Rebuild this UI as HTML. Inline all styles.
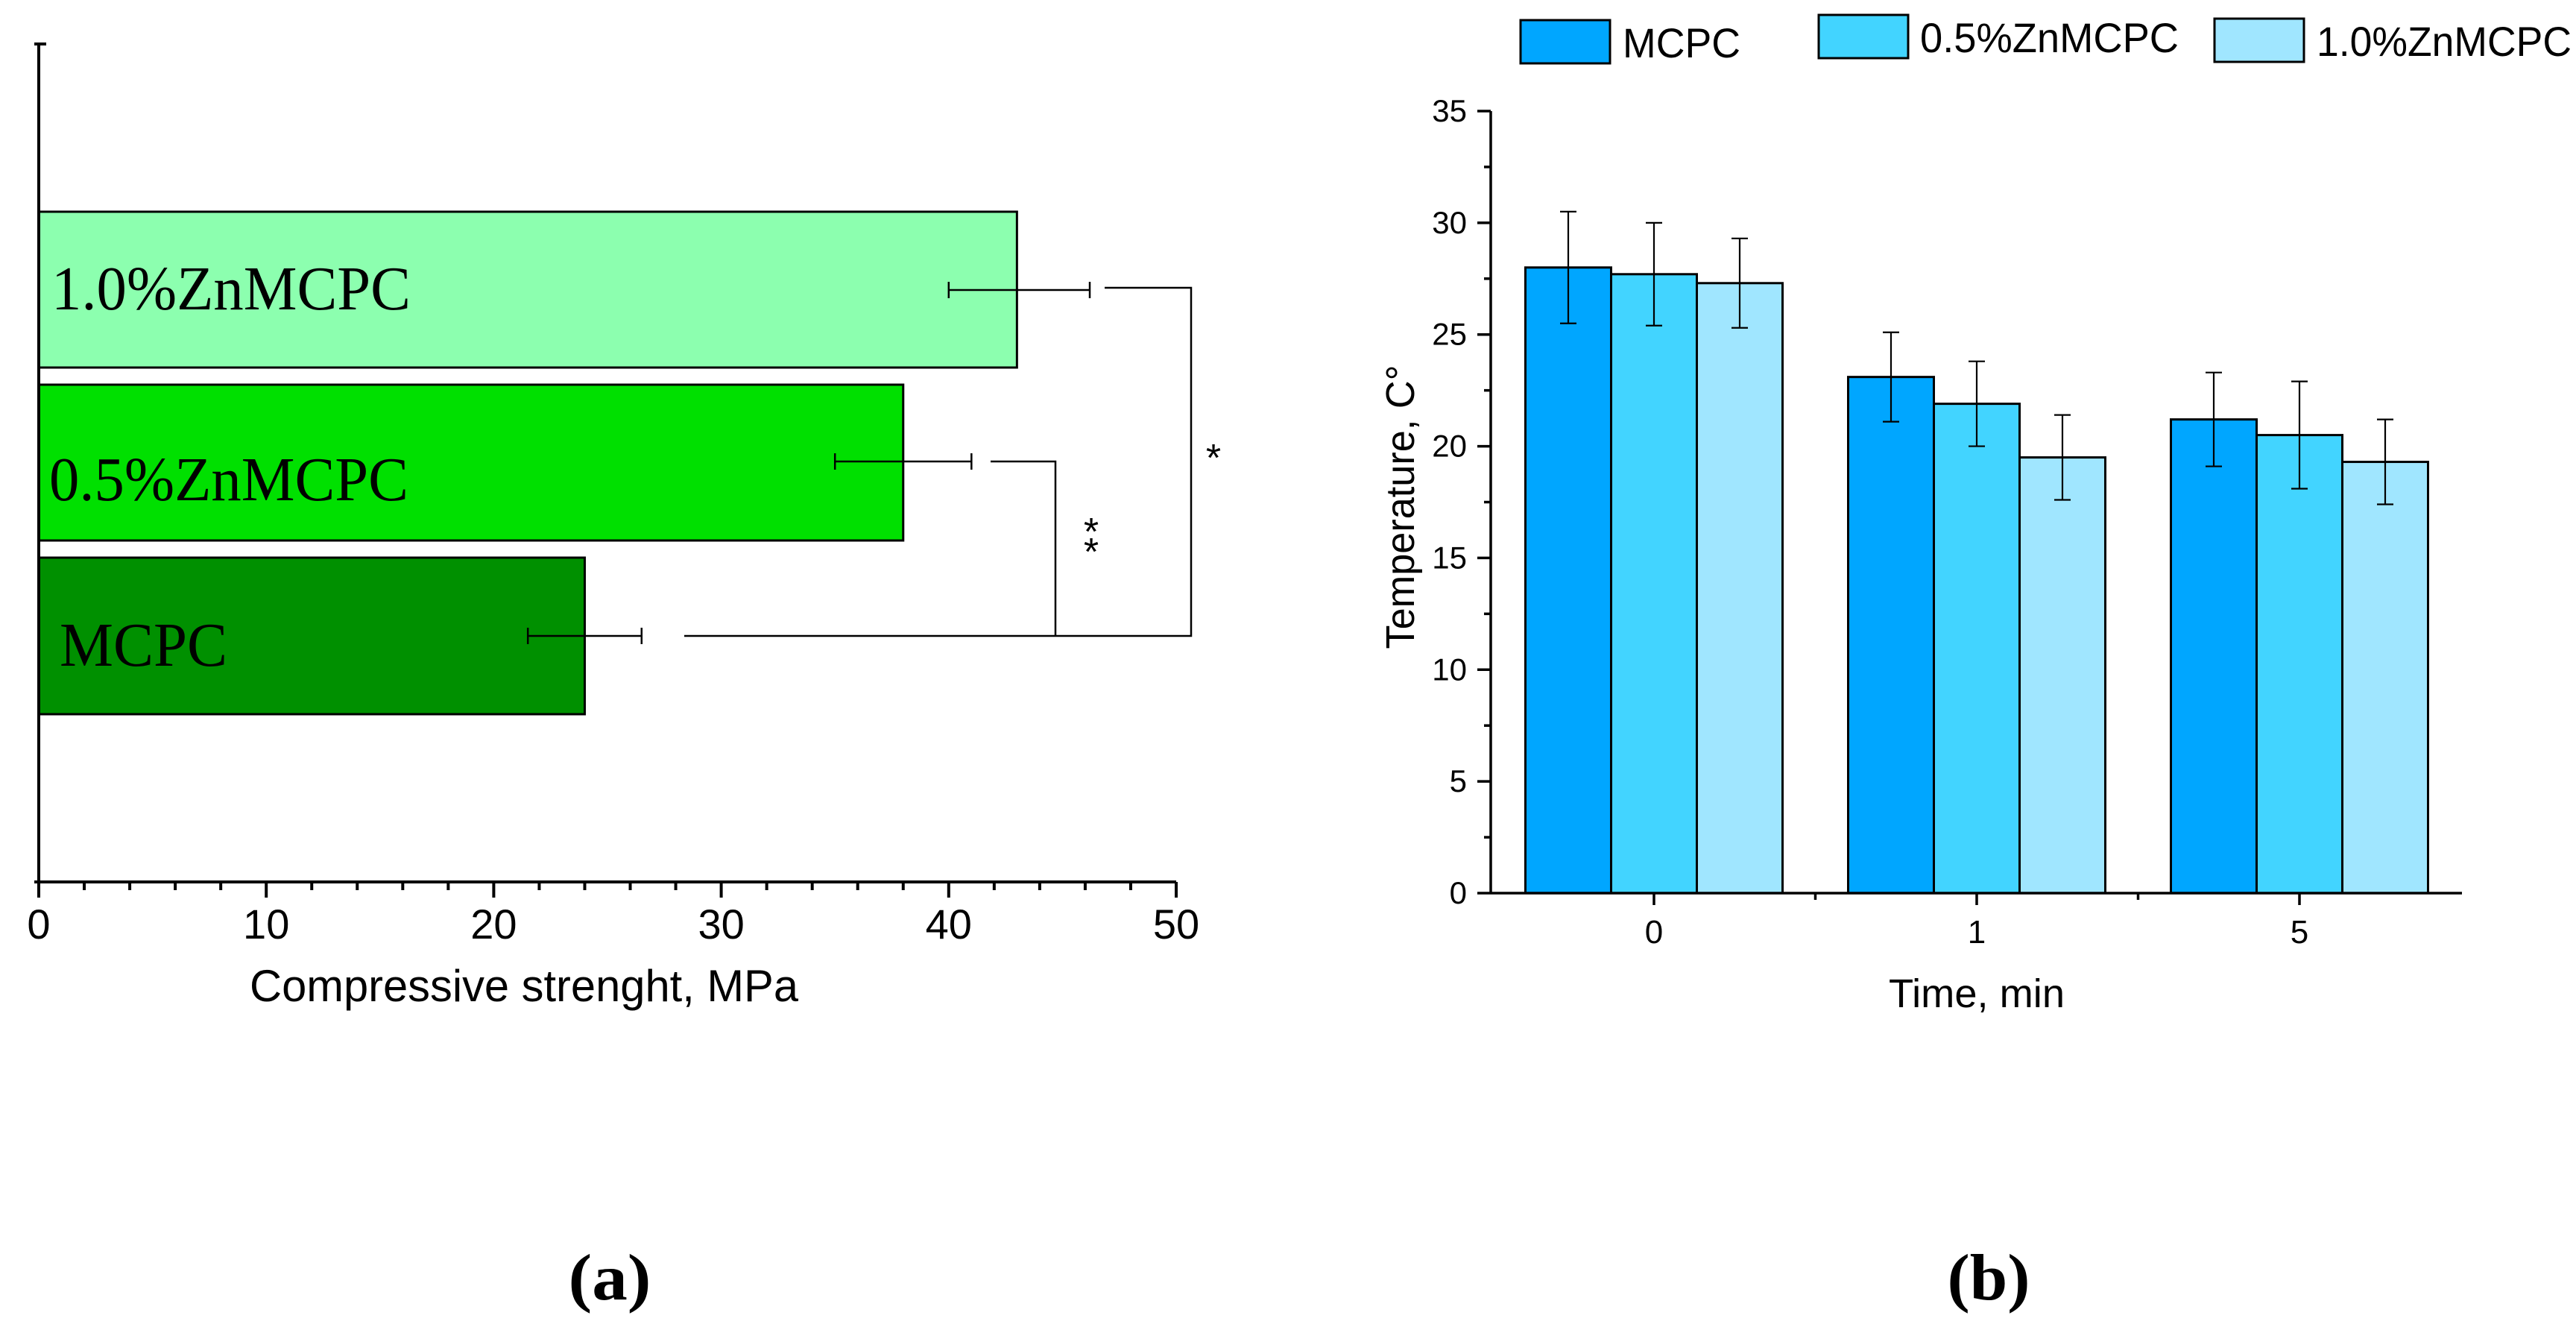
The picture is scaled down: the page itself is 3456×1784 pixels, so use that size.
<!DOCTYPE html>
<html><head><meta charset="utf-8">
<style>
html,body{margin:0;padding:0;background:#fff;}
svg{display:block;}
</style></head>
<body>
<svg id="fig" width="3456" height="1784" viewBox="0 0 3456 1784" xmlns="http://www.w3.org/2000/svg">
<rect width="3456" height="1784" fill="#fff"/>
<g id="a"></g>
<g id="b"></g>
<text x="818" y="1743" font-family="Liberation Serif, serif" font-weight="bold" font-size="88" text-anchor="middle" textLength="111" lengthAdjust="spacingAndGlyphs">(a)</text>
<text x="2668" y="1743" font-family="Liberation Serif, serif" font-weight="bold" font-size="88" text-anchor="middle" textLength="111" lengthAdjust="spacingAndGlyphs">(b)</text>
</svg>
<script>
// ---- Panel A data ----
const aCats = ["1.0%ZnMCPC","0.5%ZnMCPC","MCPC"];
const aVals = [43, 38, 24];
const aErrLo = [40.0, 35.0, 21.5];
const aErrHi = [46.2, 41.0, 26.5];
const aTicks = [0,10,20,30,40,50];
// ---- Panel B data ----
const bCats = ["0","1","5"];
const bSeries = ["MCPC","0.5%ZnMCPC","1.0%ZnMCPC"];
const bMCPC = [28.0, 23.1, 21.2];
const bZn05 = [27.7, 21.9, 20.5];
const bZn10 = [27.3, 19.5, 19.3];
const bErrMCPC = [2.5, 2.0, 2.1];
const bErrZn05 = [2.3, 1.9, 2.4];
const bErrZn10 = [2.0, 1.9, 1.9];
const bTicks = [0,5,10,15,20,25,30,35];

const NS="http://www.w3.org/2000/svg";
function mk(parent,tag,attrs,text){const e=document.createElementNS(NS,tag);for(const k in attrs)e.setAttribute(k,attrs[k]);if(text!==undefined)e.textContent=text;parent.appendChild(e);return e;}

// ===== Panel A =====
(function(){
const g=document.getElementById('a');
const x0=52,x1=1578,yTop=59,yBot=1183;
const xs=v=>x0+(v-0)/(50-0)*(x1-x0);
const barTop=[284,516,748],barBot=[493,725,958];
const colors=["#8cffaf","#00e000","#009000"];
const labelBase=[415,671,893],labelX=[69,66,80];
aCats.forEach((c,i)=>{
  const r=mk(g,'rect',{x:xs(0),y:barTop[i],width:xs(aVals[i])-xs(0),height:barBot[i]-barTop[i],fill:colors[i],stroke:'#000','stroke-width':3});
  
  
  const t=mk(g,'text',{x:labelX[i],y:labelBase[i],'font-family':'Liberation Serif, serif','font-size':84,fill:'#000',textLength:c==='MCPC'?225:482,lengthAdjust:'spacingAndGlyphs'},c);
  
  
  const yc=[389,619,853][i];
  const eb=mk(g,'g',{stroke:'#000','stroke-width':2.5});
  
  
  mk(eb,'line',{x1:xs(aErrLo[i]),y1:yc,x2:xs(aErrHi[i]),y2:yc});
  mk(eb,'line',{x1:xs(aErrLo[i]),y1:yc-11,x2:xs(aErrLo[i]),y2:yc+11});
  mk(eb,'line',{x1:xs(aErrHi[i]),y1:yc-11,x2:xs(aErrHi[i]),y2:yc+11});
});
// significance brackets
const br=mk(g,'g',{stroke:'#000','stroke-width':2.5,fill:'none'});


mk(br,'polyline',{points:`1482,386 1598,386 1598,853 918,853`});
mk(br,'polyline',{points:`1329,619 1416,619 1416,853`});
const s1=mk(g,'text',{x:1628,y:632,'font-family':'Liberation Sans, sans-serif','font-size':52,'text-anchor':'middle'},'*');


const s2=mk(g,'text',{x:1464,y:731,'font-family':'Liberation Sans, sans-serif','font-size':52,'text-anchor':'middle'},'*');


const s3=mk(g,'text',{x:1464,y:758,'font-family':'Liberation Sans, sans-serif','font-size':52,'text-anchor':'middle'},'*');


// axes
const ax=mk(g,'g',{stroke:'#000','stroke-width':4});


mk(ax,'line',{x1:x0-6,y1:yBot,x2:x1,y2:yBot});
const yax=mk(g,'line',{x1:x0,y1:yTop,x2:x0,y2:yBot,stroke:'#000','stroke-width':4});


mk(g,'line',{x1:x0-6,y1:yTop,x2:x0+10,y2:yTop,stroke:'#000','stroke-width':4});
for(let v=0;v<=50;v+=2){
  if(v%10===0) continue;
  mk(ax,'line',{x1:xs(v),y1:yBot,x2:xs(v),y2:yBot+11});
}
aTicks.forEach(v=>{
  mk(ax,'line',{x1:xs(v),y1:yBot,x2:xs(v),y2:yBot+21});
  const t=mk(g,'text',{x:xs(v),y:1259,'font-family':'Liberation Sans, sans-serif','font-size':56,'text-anchor':'middle'},String(v));
  
  
});
const tt=mk(g,'text',{x:335,y:1343,'font-family':'Liberation Sans, sans-serif','font-size':60,textLength:736,lengthAdjust:'spacingAndGlyphs'},'Compressive strenght, MPa');


})();

// ===== Panel B =====
(function(){
const g=document.getElementById('b');
const x0=2000,x1=3303,y0=1198,yTopPx=149;
const ys=v=>y0-(v/35)*(y0-yTopPx);
const groupSpacing=433, firstCenter=2219, bw=115;
const gc=i=>firstCenter+i*groupSpacing;
const vals=[bMCPC,bZn05,bZn10];
const errs=[bErrMCPC,bErrZn05,bErrZn10];
const colors=["#00a6ff","#42d4ff","#a0e6ff"];
bCats.forEach((c,i)=>{
  vals.forEach((s,j)=>{
    const xl=gc(i)+(j-1.5)*bw;
    const r=mk(g,'rect',{x:xl,y:ys(s[i]),width:bw,height:ys(0)-ys(s[i]),fill:colors[j],stroke:'#000','stroke-width':3});
    
    
    const xc=xl+bw/2;
    const eb=mk(g,'g',{stroke:'#000','stroke-width':2.2});
    
    
    mk(eb,'line',{x1:xc,y1:ys(s[i]+errs[j][i]),x2:xc,y2:ys(s[i]-errs[j][i])});
    mk(eb,'line',{x1:xc-11,y1:ys(s[i]+errs[j][i]),x2:xc+11,y2:ys(s[i]+errs[j][i])});
    mk(eb,'line',{x1:xc-11,y1:ys(s[i]-errs[j][i]),x2:xc+11,y2:ys(s[i]-errs[j][i])});
  });
});
// axes
const ax=mk(g,'g',{stroke:'#000','stroke-width':3.5});


mk(ax,'line',{x1:x0,y1:yTopPx,x2:x0,y2:y0});
mk(ax,'line',{x1:x0,y1:y0,x2:x1,y2:y0});
for(let v=2.5;v<35;v+=5) mk(ax,'line',{x1:x0,y1:ys(v),x2:x0-9,y2:ys(v)});
bTicks.forEach(v=>{
  mk(ax,'line',{x1:x0,y1:ys(v),x2:x0-18,y2:ys(v)});
  const t=mk(g,'text',{x:1968,y:ys(v)+14,'font-family':'Liberation Sans, sans-serif','font-size':42,'text-anchor':'end'},String(v));
  
  
});
for(let i=0;i<bCats.length;i++){
  mk(ax,'line',{x1:gc(i),y1:y0,x2:gc(i),y2:y0+16});
  if(i<bCats.length-1) mk(ax,'line',{x1:gc(i)+groupSpacing/2,y1:y0,x2:gc(i)+groupSpacing/2,y2:y0+9});
  const t=mk(g,'text',{x:gc(i),y:1265,'font-family':'Liberation Sans, sans-serif','font-size':44,'text-anchor':'middle'},bCats[i]);
  
  
}
const xt=mk(g,'text',{x:2534,y:1351,'font-family':'Liberation Sans, sans-serif','font-size':54,textLength:236,lengthAdjust:'spacingAndGlyphs'},'Time, min');


const yt=mk(g,'text',{x:0,y:0,'font-family':'Liberation Sans, sans-serif','font-size':54,'text-anchor':'middle',textLength:381,lengthAdjust:'spacingAndGlyphs',transform:'translate(1897,680) rotate(-90)'},'Temperature, C\u00B0');


// legend
const lg=mk(g,'g',{});


const lbx=[2040,2440,2971],lby=[27,20,25],ltx=[2177,2576,3108],ltw=[158,347,342];
bSeries.forEach((s,j)=>{
  const e=mk(lg,'g',{});
  
  
  mk(e,'rect',{x:lbx[j],y:lby[j],width:120,height:58,fill:colors[j],stroke:'#000','stroke-width':3});
  mk(e,'text',{x:ltx[j],y:lby[j]+50,'font-family':'Liberation Sans, sans-serif','font-size':56,textLength:ltw[j],lengthAdjust:'spacingAndGlyphs'},s);
});
})();
</script>
</body></html>
